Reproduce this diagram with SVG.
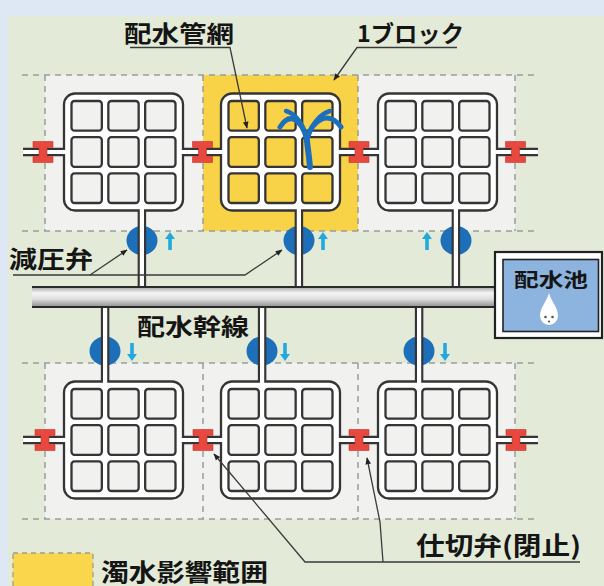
<svg xmlns="http://www.w3.org/2000/svg" width="604" height="586" viewBox="0 0 604 586">
<style>
  .lbl{font-family:"Noto Sans CJK JP","Noto Sans CJK SC",sans-serif;font-weight:bold;fill:#151515}
  .dash{fill:none;stroke:#9c9c9c;stroke-width:1.5;stroke-dasharray:6 5}
  .panel{fill:#f1f2ef}
  .tubeD{fill:none;stroke:#353535;stroke-width:8.5}
  .tubeW{fill:none;stroke:#fff;stroke-width:4.2}
  .valve{fill:#e8483d;stroke:#c9302a;stroke-width:0.6}
  .prv{fill:#1c6fb8}
  .flow{fill:#22a8df}
  .lead{fill:none;stroke:#3a3a3a;stroke-width:1.3}
</style>
<defs>
  <linearGradient id="trunkFill" x1="0" y1="0" x2="0" y2="1">
    <stop offset="0" stop-color="#a4a4a4"/>
    <stop offset="0.3" stop-color="#f6f6f6"/>
    <stop offset="0.6" stop-color="#dedede"/>
    <stop offset="1" stop-color="#8e8e8e"/>
  </linearGradient>
  <marker id="arr" viewBox="0 0 10 10" refX="9" refY="5" markerWidth="7" markerHeight="7" orient="auto" markerUnits="userSpaceOnUse">
    <path d="M0,1 L10,5 L0,9 z" fill="#222"/>
  </marker>
  <!-- one distribution block: looped main around a 3x3 grid -->
  <g id="net">
    <rect x="1" y="1" width="119" height="117" rx="11" fill="#fff" stroke="#353535" stroke-width="2.3"/>
    <g fill="currentColor" stroke="#353535" stroke-width="2.3">
      <rect x="8.5" y="8.5" width="30.33" height="29.67" rx="3"/>
      <rect x="45.33" y="8.5" width="30.33" height="29.67" rx="3"/>
      <rect x="82.17" y="8.5" width="30.33" height="29.67" rx="3"/>
      <rect x="8.5" y="44.67" width="30.33" height="29.67" rx="3"/>
      <rect x="45.33" y="44.67" width="30.33" height="29.67" rx="3"/>
      <rect x="82.17" y="44.67" width="30.33" height="29.67" rx="3"/>
      <rect x="8.5" y="80.83" width="30.33" height="29.67" rx="3"/>
      <rect x="45.33" y="80.83" width="30.33" height="29.67" rx="3"/>
      <rect x="82.17" y="80.83" width="30.33" height="29.67" rx="3"/>
    </g>
  </g>
  <path id="gv" class="valve" d="M-10,-10.5 H10 V-4.6 H4 V4.6 H10 V10.5 H-10 V4.6 H-4 V-4.6 H-10 Z"/>
  <path id="up" class="flow" d="M0,-9 L5,-2 H1.8 V9 H-1.8 V-2 H-5 Z"/>
</defs>

<!-- background -->
<rect width="604" height="586" fill="#dde8f4"/>
<rect x="8" y="16" width="596" height="570" fill="#e3ebd8"/>

<!-- block areas -->
<g id="areas">
  <rect class="panel" x="45" y="75" width="470" height="156"/>
  <rect x="203" y="75" width="155" height="156" fill="#f8d347"/>
  <rect class="panel" x="45" y="363" width="470" height="156"/>
  <path class="dash" d="M22,75 H538 M22,231 H538 M45,75 V231 M203,75 V231 M358,75 V231 M515,75 V231"/>
  <path class="dash" d="M22,363 H538 M22,519 H538 M45,363 V519 M203,363 V519 M358,363 V519 M515,363 V519"/>
</g>

<!-- pressure reducing valves (under the risers) -->
<g id="prv">
  <ellipse class="prv" cx="142" cy="240.5" rx="15.5" ry="14.5"/>
  <ellipse class="prv" cx="299" cy="240.5" rx="15.5" ry="14.5"/>
  <ellipse class="prv" cx="456" cy="240.5" rx="15.5" ry="14.5"/>
  <ellipse class="prv" cx="105" cy="351" rx="15.5" ry="14.5"/>
  <ellipse class="prv" cx="262" cy="351" rx="15.5" ry="14.5"/>
  <ellipse class="prv" cx="419" cy="351" rx="15.5" ry="14.5"/>
</g>

<!-- pipe connectors: dark casing -->
<g id="pipes">
  <path class="tubeD" d="M23,152 H538 M23,440 H538"/>
  <path class="tubeD" d="M141.9,205 V288 M298.9,205 V288 M455.9,205 V288"/>
  <path class="tubeD" d="M105.1,306 V386 M262.1,306 V386 M419.1,306 V386"/>
</g>

<!-- distribution blocks -->
<g id="block-tl"><use href="#net" x="63" y="92.5" style="color:#f1f2ef"/></g>
<g id="block-tc"><use href="#net" x="220" y="92.5" style="color:#f8d347"/></g>
<g id="block-tr"><use href="#net" x="377" y="92.5" style="color:#f1f2ef"/></g>
<g id="block-bl"><use href="#net" x="63" y="380.5" style="color:#f1f2ef"/></g>
<g id="block-bc"><use href="#net" x="220" y="380.5" style="color:#f1f2ef"/></g>
<g id="block-br"><use href="#net" x="377" y="380.5" style="color:#f1f2ef"/></g>

<!-- pipe connectors: bore -->
<g id="pipe-bore">
  <path class="tubeW" d="M23,152 H66 M178,152 H223 M335,152 H380 M492,152 H538"/>
  <path class="tubeW" d="M23,440 H66 M178,440 H223 M335,440 H380 M492,440 H538"/>
  <path class="tubeW" d="M141.9,207 V288 M298.9,207 V288 M455.9,207 V288"/>
  <path class="tubeW" d="M105.1,306 V385 M262.1,306 V385 M419.1,306 V385"/>
</g>

<!-- gate valves -->
<g id="gate-valves">
  <use href="#gv" x="43" y="152"/>
  <use href="#gv" x="202.5" y="152"/>
  <use href="#gv" x="359" y="152"/>
  <use href="#gv" x="515.5" y="152"/>
  <use href="#gv" x="45" y="440"/>
  <use href="#gv" x="203" y="440"/>
  <use href="#gv" x="359" y="440"/>
  <use href="#gv" x="516" y="440"/>
</g>

<!-- trunk main -->
<g id="trunk">
  <rect x="32" y="287" width="464" height="20" fill="url(#trunkFill)"/>
  <path d="M32,287 H496 M32,307 H496" stroke="#2a2a2a" stroke-width="2.2" fill="none"/>
</g>

<!-- reservoir -->
<g id="reservoir">
  <rect x="495" y="252" width="107" height="86" fill="#fff" stroke="#222" stroke-width="2.2"/>
  <rect x="503" y="259.5" width="95.5" height="72" fill="#8db3df" stroke="#222" stroke-width="1.6"/>
  <text class="lbl" x="514" y="287" font-size="19" textLength="74" lengthAdjust="spacingAndGlyphs">配水池</text>
  <path d="M549,293 C546.5,302 540,307.5 540,316 A9,9 0 0 0 558,316 C558,307.5 551.5,302 549,293 Z" fill="#fff"/>
  <circle cx="545.5" cy="317" r="1.3" fill="#555"/>
  <circle cx="552.5" cy="317" r="1.3" fill="#555"/>
  <circle cx="549" cy="321.5" r="1.1" fill="#555"/>
</g>

<!-- flow direction arrows -->
<g id="flow">
  <use href="#up" x="170" y="241"/>
  <use href="#up" x="323" y="241"/>
  <use href="#up" x="427" y="241"/>
  <use href="#up" transform="translate(132,352) rotate(180)"/>
  <use href="#up" transform="translate(285,352) rotate(180)"/>
  <use href="#up" transform="translate(445,352) rotate(180)"/>
</g>

<!-- burst main -->
<g id="fountain" fill="none" stroke="#1d6fbd" stroke-width="6" stroke-linecap="round">
  <path d="M310,167 C309,156 307.5,146 306.5,137"/>
  <path d="M306.5,138 C301,120 290,111 280,127" stroke-width="5"/>
  <path d="M306,136 C303,124 296,114 286,111" stroke-width="4.5"/>
  <path d="M307.5,138 C312,121 328,109 341,127" stroke-width="5"/>
  <path d="M308,136 C312,124 320,114 330,111" stroke-width="4.5"/>
</g>

<!-- labels -->
<g id="labels">
  <text class="lbl" x="124" y="41.5" font-size="23" textLength="110" lengthAdjust="spacingAndGlyphs">配水管網</text>
  <text class="lbl" x="357" y="41.5" font-size="23" textLength="107" lengthAdjust="spacingAndGlyphs">1ブロック</text>
  <text class="lbl" x="9" y="268" font-size="24" textLength="84" lengthAdjust="spacingAndGlyphs">減圧弁</text>
  <text class="lbl" x="137" y="335" font-size="23" textLength="112" lengthAdjust="spacingAndGlyphs">配水幹線</text>
  <text class="lbl" x="416" y="555" font-size="25" textLength="165" lengthAdjust="spacingAndGlyphs">仕切弁(閉止)</text>
</g>

<!-- leader lines -->
<g id="leaders" class="lead">
  <path d="M130,47.5 H230 L247,128" marker-end="url(#arr)"/>
  <path d="M457,47.5 H357 L334,80" marker-end="url(#arr)"/>
  <path d="M13,275 H245 L282,250" marker-end="url(#arr)"/>
  <path d="M90,275 L127,250" marker-end="url(#arr)"/>
  <path d="M580,562 H305 L214,454" marker-end="url(#arr)"/>
  <path d="M383,562 L380,522 L367,458" marker-end="url(#arr)"/>
</g>

<!-- legend -->
<g id="legend">
  <rect x="13" y="553" width="80" height="40" fill="#f9d64c" stroke="#9c9c9c" stroke-width="1.3" stroke-dasharray="5 4"/>
  <text class="lbl" x="101" y="580.5" font-size="24" textLength="167" lengthAdjust="spacingAndGlyphs">濁水影響範囲</text>
</g>
</svg>
